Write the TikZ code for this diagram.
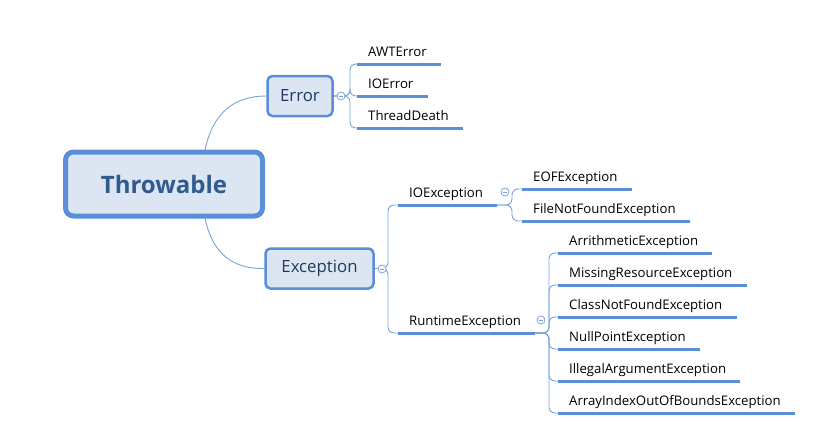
\documentclass[tikz,border=0pt]{standalone}
\usepackage{fontspec}
\setmainfont{Open Sans}
\usetikzlibrary{positioning}
\definecolor{mapblue}{HTML}{5A8ED6}
\definecolor{mapfill}{HTML}{DCE6F2}
\definecolor{maptext}{HTML}{2F5B8F}
\definecolor{mapdark}{HTML}{1F3A5F}
\definecolor{maplink}{HTML}{7BA3DB}
\tikzset{
    root/.style={rectangle, rounded corners=8pt,
        minimum width=197pt, minimum height=64pt,
        draw=mapblue, line width=5pt, fill=mapfill, text=maptext,
        font=\fontsize{24}{28}\selectfont\bfseries},
    topic/.style={rectangle, rounded corners=5pt, minimum height=40pt,
        draw=mapblue, line width=2.5pt, fill=mapfill, text=mapdark,
        font=\fontsize{16.8}{20}\selectfont},
    leaf/.style={anchor=south west, inner xsep=11pt, inner ysep=7.5pt,
        text depth=0pt, font=\fontsize{13.2}{16}\selectfont},
    uline/.style={mapblue, line width=3pt},
    branch/.style={maplink, line width=0.9pt},
    bracket/.style={branch, rounded corners=6pt},
    marker/.style={circle, draw=maplink, fill=white, line width=0.8pt,
        minimum size=8pt, inner sep=0pt,
        path picture={\draw[maplink, line width=0.8pt]
            ([xshift=-2pt]path picture bounding box.center) --
            ([xshift=2pt]path picture bounding box.center);}}
}

\begin{document}
\begin{tikzpicture}[x=1pt, y=-1pt]
    \useasboundingbox (0,0) rectangle (825,447);
    % main topics
    \node[root] (tw) at (164,184) {Throwable};
    \node[topic, minimum width=65pt] (err) at (300,96) {Error};
    \node[topic, minimum width=108pt] (exc) at (319.5,268.5) {Exception};
    % leaves of Error
    \node[leaf] (awt) at (357,64) {AWTError};
    \node[leaf] (ioerr) at (357,96) {IOError};
    \node[leaf] (thd) at (357,128) {ThreadDeath};
    % subtopics of Exception
    \node[leaf] (ioexc) at (398,205) {IOException};
    \node[leaf] (rtexc) at (398,333) {RuntimeException};
    \node[leaf] (eof) at (522,189) {EOFException};
    \node[leaf] (fnf) at (522,221) {FileNotFoundException};
    \foreach \name/\txt [count=\i] in {ari/ArrithmeticException,
        mis/MissingResourceException, cnf/ClassNotFoundException,
        npe/NullPointException, iae/IllegalArgumentException,
        aio/ArrayIndexOutOfBoundsException}
        \node[leaf] (\name) at (558,221+32*\i) {\txt};
    % vertical lines of the brackets
    \coordinate (verr) at (350,96);
    \coordinate (vexc) at (388,269);
    \coordinate (vio) at (512,205);
    \coordinate (vrt) at (549,333);
    % underlines
    \foreach \n in {awt,ioerr,thd,ioexc,rtexc,eof,fnf,ari,mis,cnf,npe,iae,aio}
        \draw[uline] (\n.south west) -- ([xshift=3pt]\n.south east);
    % connectors
    \draw[branch] (tw.40) .. controls (213,112) and (235,96) .. (err.west);
    \draw[branch] (tw.-40) .. controls (213,256) and (235,269) .. (exc.west);
    \foreach \n in {awt,ioerr,thd}
        \draw[bracket] (err.east) -| (verr |- \n.south west) -- (\n.south west);
    \foreach \n in {ioexc,rtexc}
        \draw[bracket] (exc.east) -| (vexc |- \n.south west) -- (\n.south west);
    \foreach \n in {eof,fnf}
        \draw[bracket] ([xshift=3pt]ioexc.south east) -| (vio |- \n.south west)
            -- (\n.south west);
    \foreach \n in {ari,mis,cnf,npe,iae,aio}
        \draw[bracket] ([xshift=3pt]rtexc.south east) -| (vrt |- \n.south west)
            -- (\n.south west);
    % collapse markers
    \node[marker] (merr) at (341,96) {};
    \node[marker] (mexc) at (382,269) {};
    \node[marker] (mio) at (505,192) {};
    \node[marker] (mrt) at (541,320) {};
\end{tikzpicture}
\end{document}
